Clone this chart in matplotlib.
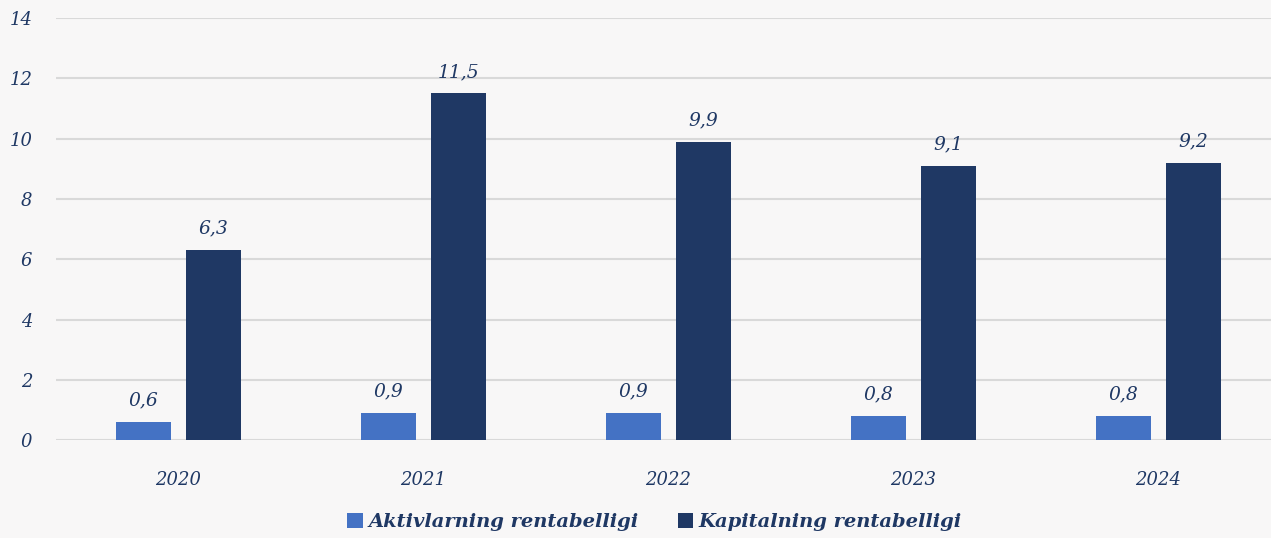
import matplotlib.pyplot as plt
import numpy as np

years = ["2020", "2021", "2022", "2023", "2024"]
aktiv = [0.6, 0.9, 0.9, 0.8, 0.8]
kapital = [6.3, 11.5, 9.9, 9.1, 9.2]
series_names = ["Aktivlarning rentabelligi", "Kapitalning rentabelligi"]

light = "#4472C4"
dark = "#1F3864"
txt = "#1F3864"
font = "DejaVu Serif"

fig = plt.figure(figsize=(12.71, 5.38), dpi=100)
fig.patch.set_facecolor("#f8f7f7")
ax = fig.add_axes([0.044, 0.182, 0.956, 0.7844])
ax.set_facecolor("none")

x = np.arange(len(years))
w = 0.224
off = 0.143
b1 = ax.bar(x - off, aktiv, w, color=light, label=series_names[0], zorder=3)
b2 = ax.bar(x + off, kapital, w, color=dark, label=series_names[1], zorder=3)

def fmt(v):
    return f"{v:.1f}".replace(".", ",")

for bars, vals in ((b1, aktiv), (b2, kapital)):
    for r, v in zip(bars, vals):
        ax.annotate(fmt(v), (r.get_x() + r.get_width() / 2, v),
                    xytext=(0, 9), textcoords="offset points",
                    ha="center", va="bottom", fontsize=13.5,
                    style="italic", family=font, color=txt)

ax.set_ylim(0, 14)
ax.set_yticks(range(0, 15, 2))
ax.set_xlim(-0.5, 4.459)
ax.set_xticks(x)
ax.set_xticklabels(years)
ax.grid(axis="y", color="#d9d9d9", linewidth=1.5, zorder=0)
for s in ax.spines.values():
    s.set_visible(False)
ax.tick_params(length=0)
ax.tick_params(axis="y", pad=17)
ax.tick_params(axis="x", pad=22)
for lab in ax.get_xticklabels() + ax.get_yticklabels():
    lab.set_fontfamily(font)
    lab.set_fontstyle("italic")
    lab.set_fontsize(13)
    lab.set_color(txt)

leg = fig.legend(handles=[b1, b2], loc="lower center", bbox_to_anchor=(0.515, -0.02),
                 ncol=2, frameon=False, handlelength=0.8, handleheight=0.8,
                 handletextpad=0.3, columnspacing=2.0,
                 prop={"family": font, "style": "italic", "weight": "bold", "size": 14})
for t in leg.get_texts():
    t.set_color(txt)

fig.savefig("out.png", dpi=100, facecolor=fig.get_facecolor())
